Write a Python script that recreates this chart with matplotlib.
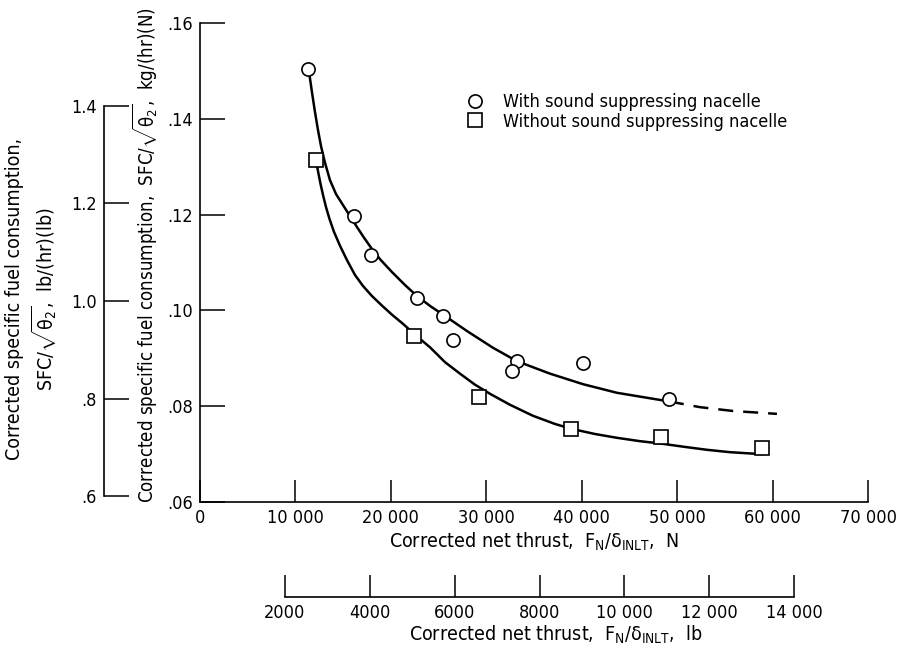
import matplotlib
matplotlib.use("Agg")
import matplotlib.pyplot as plt
from matplotlib.lines import Line2D
from matplotlib import font_manager

# --- data ---
with_x = [11350, 16130, 17920, 22730, 25510, 26540, 33210, 32660, 40180, 49170]
with_y = [0.1505, 0.1198, 0.1116, 0.1026, 0.0989, 0.0938, 0.0895, 0.0874, 0.0890, 0.0814]
without_x = [12190, 22450, 29230, 38840, 48270, 58850]
without_y = [0.1315, 0.0947, 0.0820, 0.0753, 0.0736, 0.0712]

# faired curves
with_curve_x = [11470, 11730, 12050, 12360, 12680, 13100, 13620, 14250, 14980, 15720,
                16450, 17180, 17920, 18860, 20120, 21480, 22740, 24200, 25560, 27970,
                30700, 33210, 36670, 40130, 43690, 49140]
with_curve_y = [0.1492, 0.1456, 0.1414, 0.1377, 0.1343, 0.1308, 0.1272, 0.1243, 0.1220, 0.1197,
                0.1174, 0.1152, 0.1131, 0.1107, 0.1080, 0.1053, 0.1030, 0.1008, 0.0990, 0.0957,
                0.0922, 0.0894, 0.0868, 0.0846, 0.0828, 0.0810]
with_dash_x = [49140, 52390, 55850, 60460]
with_dash_y = [0.0810, 0.0798, 0.0790, 0.0784]

without_curve_x = [12260, 12420, 12630, 12890, 13200, 13570, 14040, 14670, 15400, 16240,
                   17080, 18020, 19070, 20120, 21270, 22490, 24100, 25670, 27240, 28810,
                   30380, 32480, 34890, 37190, 38870, 41380, 43690, 46100, 48300, 50810,
                   53120, 55530, 57940, 58880]
without_curve_y = [0.1302, 0.1285, 0.1264, 0.1241, 0.1216, 0.1191, 0.1164, 0.1135, 0.1105, 0.1074,
                   0.1051, 0.1030, 0.1010, 0.0991, 0.0972, 0.0950, 0.0923, 0.0892, 0.0868, 0.0845,
                   0.0826, 0.0803, 0.0780, 0.0763, 0.0753, 0.0742, 0.0734, 0.0727, 0.0722, 0.0715,
                   0.0709, 0.0704, 0.0701, 0.0700]

x_ticks = [0, 10000, 20000, 30000, 40000, 50000, 60000, 70000]
x_labels = ["0", "10 000", "20 000", "30 000", "40 000", "50 000", "60 000", "70 000"]
y_ticks = [0.06, 0.08, 0.10, 0.12, 0.14, 0.16]
y_labels = [".06", ".08", ".10", ".12", ".14", ".16"]
lb_ticks = [2000, 4000, 6000, 8000, 10000, 12000, 14000]
lb_labels = ["2000", "4000", "6000", "8000", "10 000", "12 000", "14 000"]
sfc_lb_ticks = [0.6, 0.8, 1.0, 1.2, 1.4]
sfc_lb_labels = [".6", ".8", "1.0", "1.2", "1.4"]

N_PER_LB = 4.44822
G = 9.80665

# a condensed face is closest to the original lettering, if one is there
condensed = any(f.name == "DejaVu Sans" and f.stretch == "condensed"
                for f in font_manager.fontManager.ttflist)
if condensed:
    fam = "DejaVu Sans"
    plt.rcParams["font.stretch"] = "condensed"
else:
    fam = "Liberation Sans"
plt.rcParams["font.family"] = [fam, "DejaVu Sans"]
plt.rcParams["mathtext.fontset"] = "custom"
plt.rcParams["mathtext.rm"] = fam
plt.rcParams["mathtext.it"] = fam
plt.rcParams["mathtext.sf"] = fam
fs = 13      # tick labels, legend
fl = 14      # axis titles

fig = plt.figure(figsize=(9, 6.57), dpi=100)
W, H = 900, 657
left, right, top, bottom = 200, 868, 23, 502
ax = fig.add_axes([left / W, 1 - bottom / H, (right - left) / W, (bottom - top) / H])

lw = 1.8
ax.plot(with_curve_x, with_curve_y, color="black", lw=lw, zorder=2)
ax.plot(with_dash_x, with_dash_y, color="black", lw=lw, ls=(0, (6, 4)), zorder=2)
ax.plot(without_curve_x, without_curve_y, color="black", lw=lw, zorder=2)
ax.plot(with_x, with_y, ls="none", marker="o", ms=9.5, mfc="white", mec="black", mew=1.2, zorder=3)
ax.plot(without_x, without_y, ls="none", marker="s", ms=9.5, mfc="white", mec="black", mew=1.2, zorder=3)

ax.set_xlim(0, 70000)
ax.set_ylim(0.06, 0.16)
ax.set_xticks(x_ticks)
ax.set_xticklabels(x_labels, fontsize=fs)
ax.set_yticks(y_ticks)
ax.set_yticklabels(y_labels, fontsize=fs)
ax.tick_params(axis="x", direction="in", length=16, width=1.1, pad=5)
ax.tick_params(axis="y", direction="in", length=18, width=1.1, pad=5)
for s in ["top", "right"]:
    ax.spines[s].set_visible(False)
for s in ["left", "bottom"]:
    ax.spines[s].set_linewidth(1.2)
ax.patch.set_visible(False)

handles = [Line2D([], [], ls="none", marker="o", ms=9.5, mfc="white", mec="black", mew=1.2),
           Line2D([], [], ls="none", marker="s", ms=9.5, mfc="white", mec="black", mew=1.2)]
ax.legend(handles, ["With sound suppressing nacelle", "Without sound suppressing nacelle"],
          loc="upper left", bbox_to_anchor=(0.3845, 0.873), frameon=False, fontsize=fs,
          handlelength=1.0, handletextpad=1.05, labelspacing=0.1, borderpad=0)

# second SFC scale, lb/(hr)(lb)
ax2 = fig.add_axes([104 / W, 1 - bottom / H, 0.03, (bottom - top) / H])
ax2.set_ylim(0.06 * G, 0.16 * G)
ax2.set_yticks(sfc_lb_ticks)
ax2.set_yticklabels(sfc_lb_labels, fontsize=fs)
ax2.tick_params(axis="y", direction="in", length=18, width=1.1, pad=5)
ax2.set_xticks([])
for s in ["top", "right", "bottom"]:
    ax2.spines[s].set_visible(False)
ax2.spines["left"].set_bounds(0.6, 1.4)
ax2.spines["left"].set_linewidth(1.2)
ax2.patch.set_visible(False)

# second thrust scale, lb
ax3 = fig.add_axes([left / W, 1 - 597 / H, (right - left) / W, 0.05])
ax3.set_xlim(0, 70000 / N_PER_LB)
ax3.set_xticks(lb_ticks)
ax3.set_xticklabels(lb_labels, fontsize=fs)
ax3.tick_params(axis="x", direction="in", length=16, width=1.1, pad=5)
ax3.set_yticks([])
for s in ["top", "right", "left"]:
    ax3.spines[s].set_visible(False)
ax3.spines["bottom"].set_bounds(2000, 14000)
ax3.spines["bottom"].set_linewidth(1.2)
ax3.patch.set_visible(False)

fig.text(145 / W, 1 - 255 / H,
         r"Corrected specific fuel consumption,  SFC/$\sqrt{\theta_2}$,  kg/(hr)(N)",
         rotation=90, ha="center", va="center", fontsize=13.4)
fig.text(32 / W, 1 - 299 / H,
         "Corrected specific fuel consumption,\n" + r"SFC/$\sqrt{\theta_2}$,  lb/(hr)(lb)",
         rotation=90, ha="center", va="center", fontsize=fl, multialignment="center")
fig.text(534 / W, 1 - 542 / H, r"Corrected net thrust,  $F_N/\delta_{INLT}$,  N",
         ha="center", va="center", fontsize=fl)
fig.text(556 / W, 1 - 635 / H, r"Corrected net thrust,  $F_N/\delta_{INLT}$,  lb",
         ha="center", va="center", fontsize=fl)

fig.savefig("out.png", dpi=100)
